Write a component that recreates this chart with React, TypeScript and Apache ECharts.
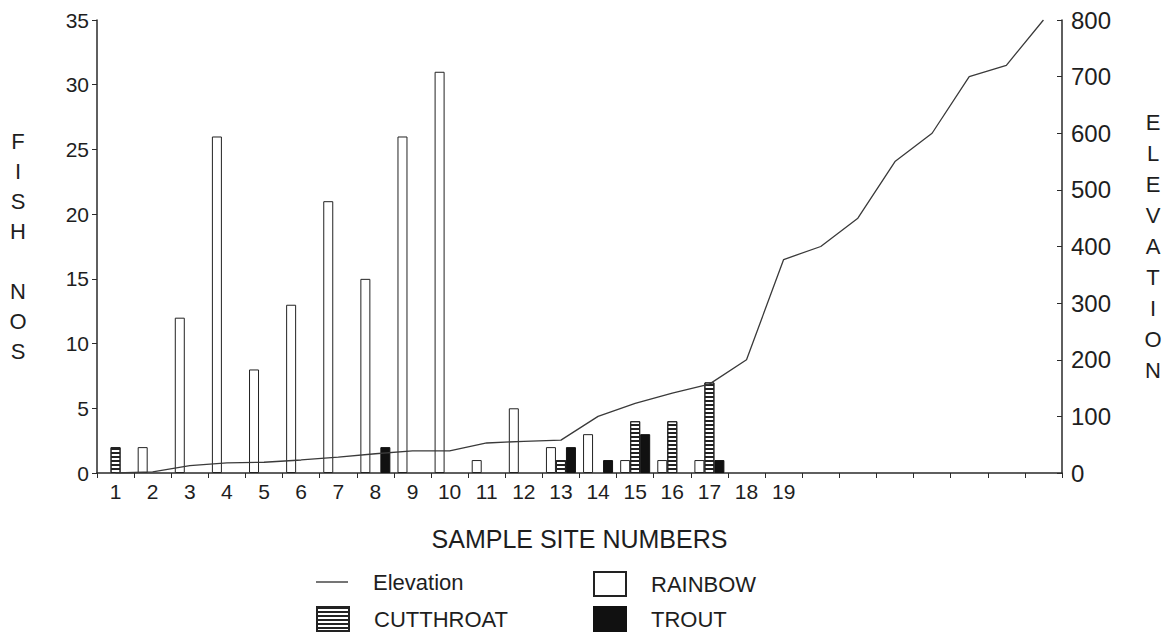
import React, { useEffect, useRef } from "react";
import * as echarts from "echarts";

const sites = ["1","2","3","4","5","6","7","8","9","10","11","12","13","14","15","16","17","18","19","","","","","","",""];
const rainbow = [null,2,12,26,8,13,21,15,26,31,1,5,2,3,1,1,1,null,null,null,null,null,null,null,null,null];
const cutthroat = [2,null,null,null,null,null,null,null,null,null,null,null,1,null,4,4,7,null,null,null,null,null,null,null,null,null];
const trout = [null,null,null,null,null,null,null,2,null,null,null,null,2,1,3,null,1,null,null,null,null,null,null,null,null,null];
const elevation = [0,2,13,18,19,23,28,34,39,39,53,56,58,100,123,141,157,200,377,400,450,550,600,700,720,800];

const FONT = "Liberation Sans, Arial, sans-serif";
const INK = "#1e1e1e";

export default function App() {
  const ref = useRef<HTMLDivElement>(null);
  useEffect(() => {
    document.body.style.margin = "0";
    const chart = echarts.init(ref.current!, null, { renderer: "svg" });
    const stripe = {
      symbol: "rect",
      symbolSize: 1,
      symbolKeepAspect: false,
      color: "#222",
      backgroundColor: "#fff",
      dashArrayX: [10, 0],
      dashArrayY: [2, 2],
      rotation: 0,
    };
    const legendText = { fontFamily: FONT, fontSize: 22, color: INK, padding: [0, 0, 0, 20] };
    const legendBase = { selectedMode: false, itemWidth: 32, itemHeight: 24, padding: 0, textStyle: legendText, orient: "horizontal" };
    chart.setOption({
      animation: false,
      textStyle: { fontFamily: FONT, color: INK },
      grid: { left: 97, right: 111, top: 20, bottom: 162, containLabel: false },
      legend: [
        { ...legendBase, data: [{ name: "Elevation", icon: "path://M0,0L32,0L32,1.4L0,1.4Z" }], left: 316, top: 571 },
        { ...legendBase, data: [{ name: "RAINBOW", icon: "rect" }], left: 593, top: 571 },
        { ...legendBase, data: [{ name: "CUTTHROAT", icon: "rect" }], left: 316, top: 606 },
        { ...legendBase, data: [{ name: "TROUT", icon: "rect" }], left: 593, top: 606 },
      ],
      xAxis: {
        type: "category",
        data: sites,
        boundaryGap: true,
        name: "SAMPLE SITE NUMBERS",
        nameLocation: "middle",
        nameGap: 53,
        nameTextStyle: { fontFamily: FONT, fontSize: 25, color: INK },
        axisLine: { lineStyle: { color: "#2a2a2a", width: 1.5 } },
        axisTick: { show: true, length: 5, lineStyle: { color: "#2a2a2a" } },
        axisLabel: { interval: 0, fontFamily: FONT, fontSize: 21, color: INK, margin: 8 },
        splitLine: { show: false },
      },
      yAxis: [
        {
          type: "value",
          min: 0,
          max: 35,
          interval: 5,
          position: "left",
          name: "F\nI\nS\nH\n\nN\nO\nS",
          nameLocation: "middle",
          nameRotate: 0,
          nameGap: 79,
          nameTextStyle: { fontFamily: FONT, fontSize: 22, color: INK, lineHeight: 30, align: "center" },
          axisLine: { show: true, lineStyle: { color: "#2a2a2a", width: 1.5 } },
          axisTick: { show: true, length: 5, lineStyle: { color: "#2a2a2a" } },
          axisLabel: { fontFamily: FONT, fontSize: 21, color: INK, margin: 8 },
          splitLine: { show: false },
        },
        {
          type: "value",
          min: 0,
          max: 800,
          interval: 100,
          position: "right",
          name: "E\nL\nE\nV\nA\nT\nI\nO\nN",
          nameLocation: "middle",
          nameRotate: 0,
          nameGap: 91,
          nameTextStyle: { fontFamily: FONT, fontSize: 22, color: INK, lineHeight: 31, align: "center" },
          axisLine: { show: true, lineStyle: { color: "#2a2a2a", width: 1.5 } },
          axisTick: { show: true, length: 5, inside: true, lineStyle: { color: "#2a2a2a" } },
          axisLabel: { fontFamily: FONT, fontSize: 24, color: INK, margin: 9 },
          splitLine: { show: false },
        },
      ],
      series: [
        {
          name: "RAINBOW",
          type: "bar",
          data: rainbow,
          barWidth: 10,
          barGap: "0%",
          itemStyle: { color: "#fff", borderColor: "#222", borderWidth: 1 },
        },
        {
          name: "CUTTHROAT",
          type: "bar",
          data: cutthroat,
          barWidth: 10,
          barGap: "0%",
          itemStyle: { color: "#fff", borderColor: "#222", borderWidth: 1, decal: stripe },
        },
        {
          name: "TROUT",
          type: "bar",
          data: trout,
          barWidth: 10,
          barGap: "0%",
          itemStyle: { color: "#111", borderColor: "#111", borderWidth: 1 },
        },
        {
          name: "Elevation",
          type: "line",
          yAxisIndex: 1,
          data: elevation,
          symbol: "none",
          lineStyle: { color: "#3a3a3a", width: 1.3 },
          itemStyle: { color: "#3a3a3a" },
        },
      ],
    });
    return () => chart.dispose();
  }, []);
  return <div ref={ref} style={{ position: "fixed", left: 0, top: 0, width: 1173, height: 635, background: "#fff" }} />;
}
